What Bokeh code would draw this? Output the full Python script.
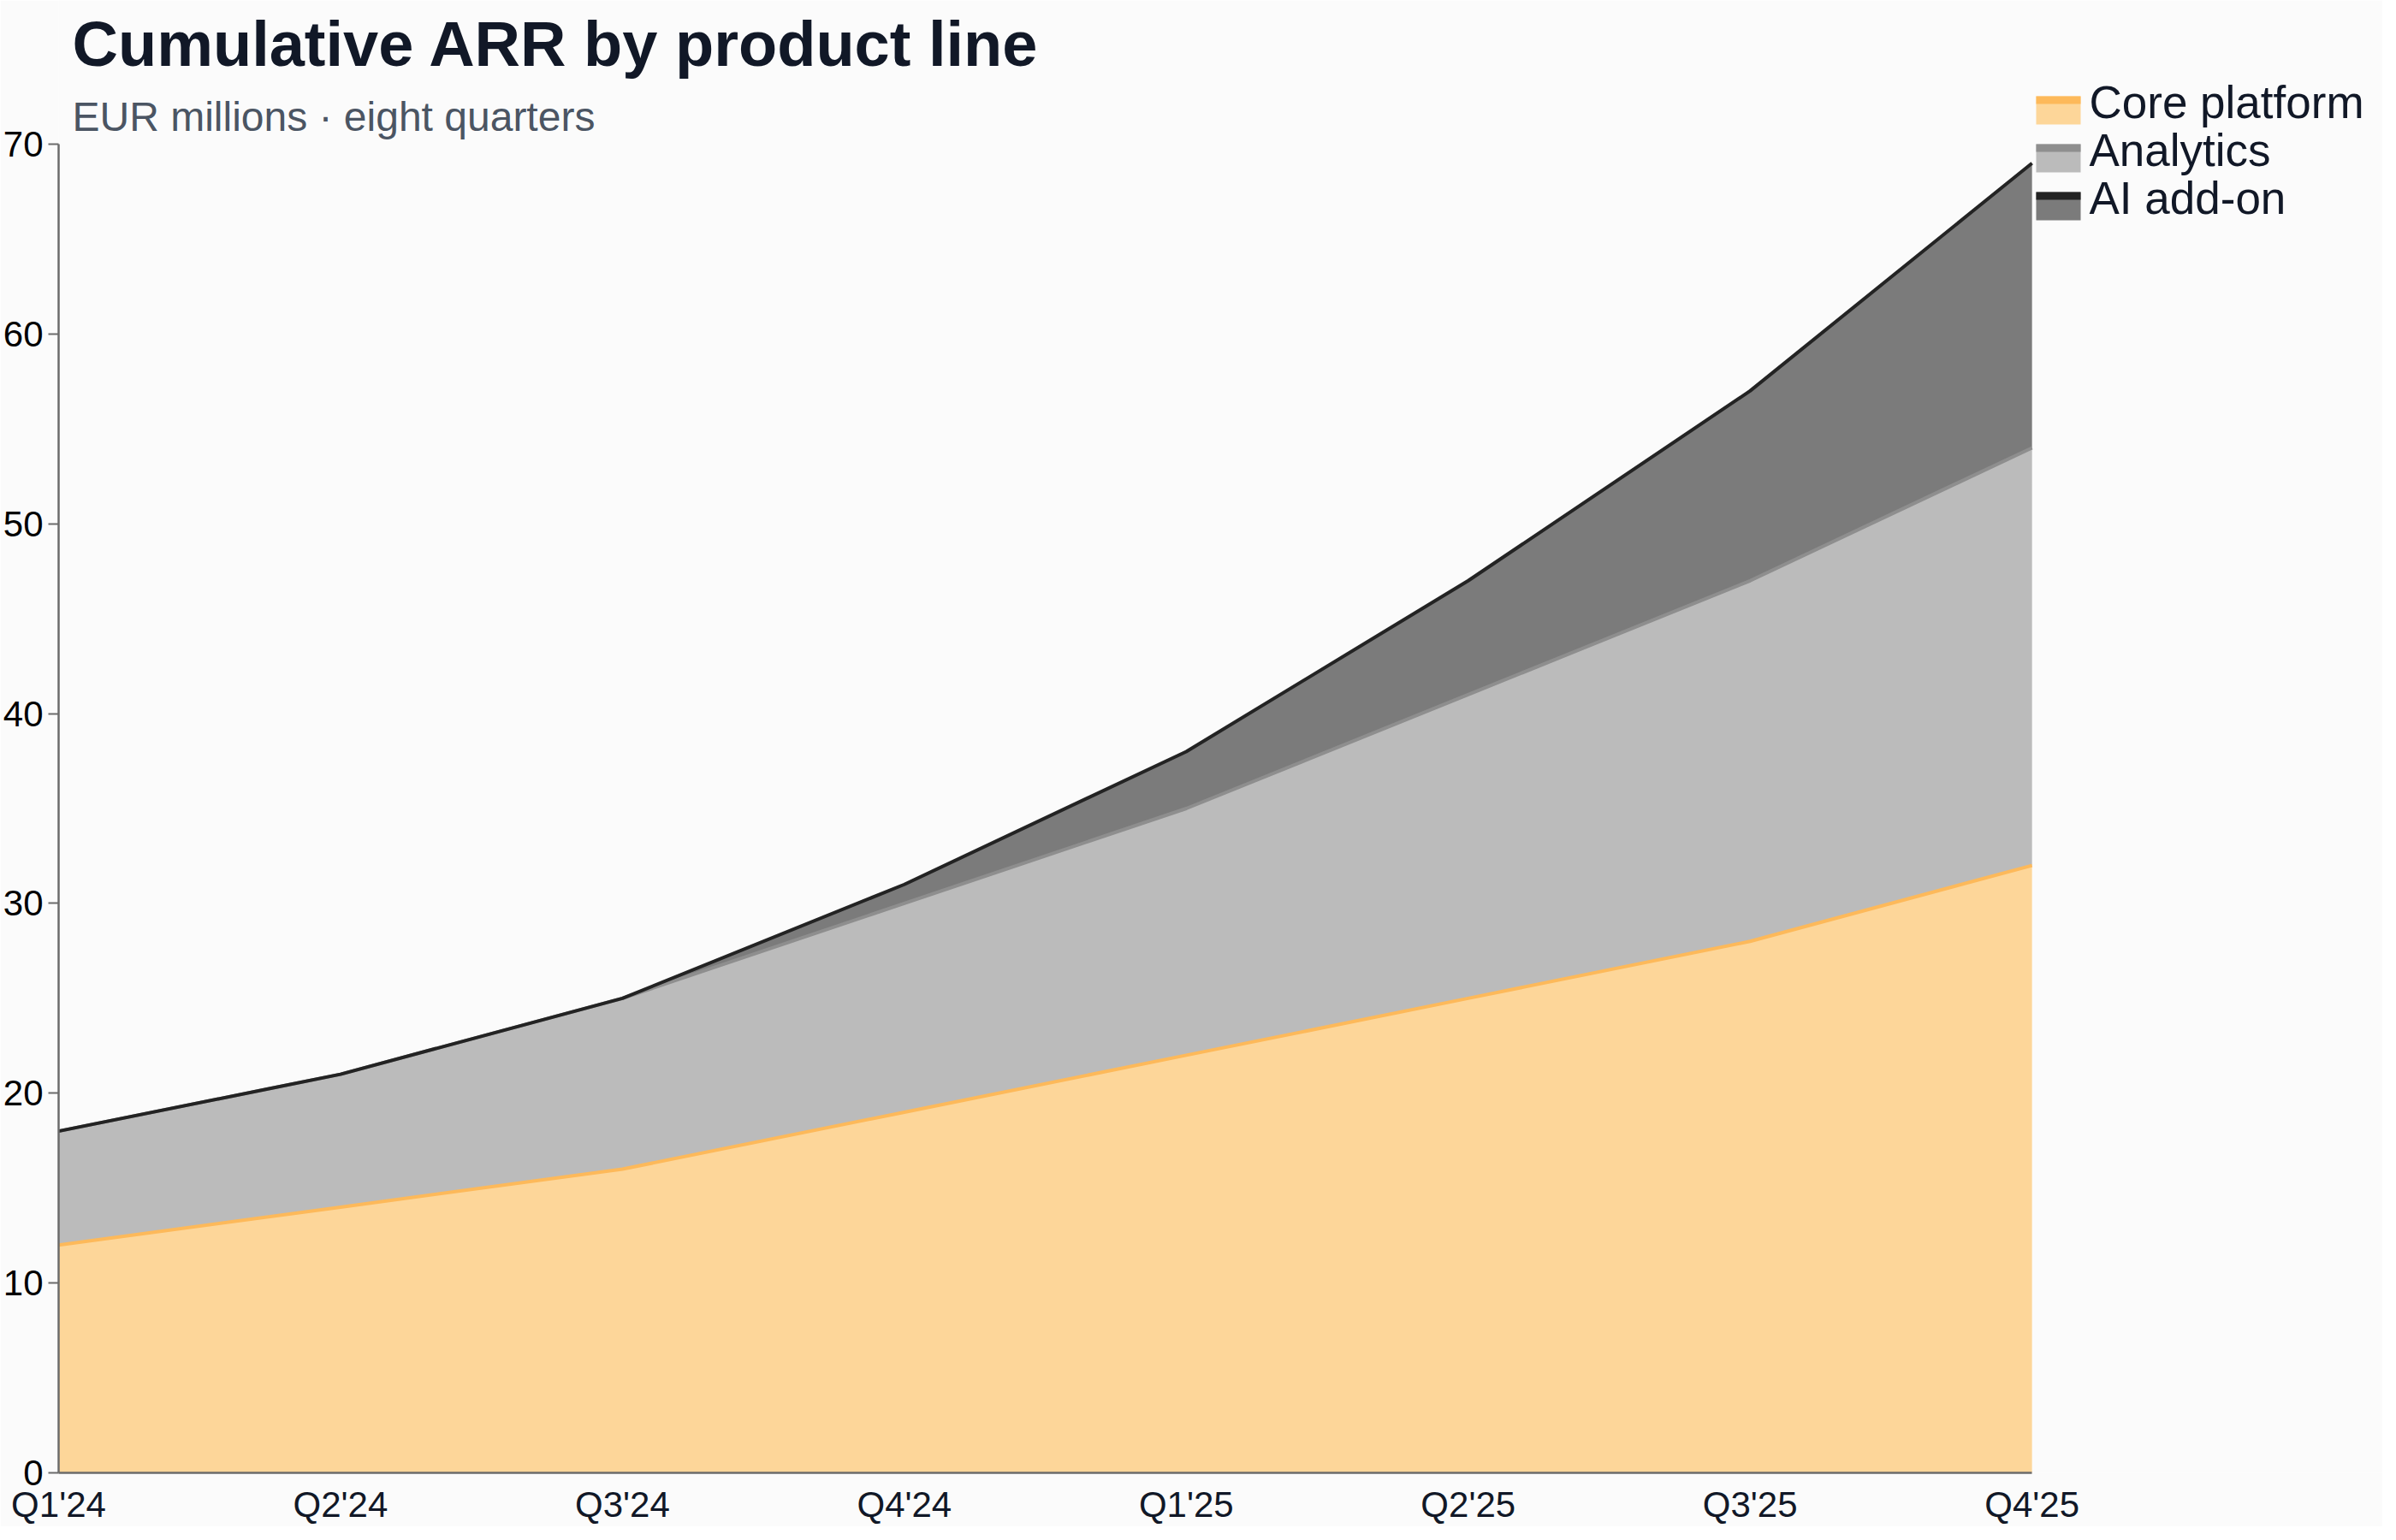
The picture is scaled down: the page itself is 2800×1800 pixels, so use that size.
from bokeh.plotting import figure
from bokeh.models import Range1d, FixedTicker, Label, BoxAnnotation
from bokeh.embed import file_html
from bokeh.resources import INLINE

quarters = ["Q1'24", "Q2'24", "Q3'24", "Q4'24", "Q1'25", "Q2'25", "Q3'25", "Q4'25"]
core = [12, 14, 16, 19, 22, 25, 28, 32]
analytics = [6, 7, 9, 11, 13, 16, 19, 22]
ai_addon = [0, 0, 0, 1, 3, 6, 10, 15]

names = ["Core platform", "Analytics", "AI add-on"]
fills = ["#FDD699", "#BBBBBB", "#7B7B7B"]
lines = ["#FDB95A", "#8E8E8E", "#232323"]

FONT = "Liberation Sans"
W, H = 2784, 1784
LEFT, BOTTOM = 67, 63          # axis panels
DATA_TOP, DATA_RIGHT = 168, 2374  # where y=70 and the last quarter sit (canvas px)
Y_MAX = 70

x = list(range(len(quarters)))
core_top = list(core)
ana_top = [c + a for c, a in zip(core_top, analytics)]
ai_top = [t + a for t, a in zip(ana_top, ai_addon)]

# the frame fills the whole canvas so that the header and legend can live inside it
frame_h = H - BOTTOM
frame_w = W - LEFT
y_end = Y_MAX * frame_h / (frame_h - DATA_TOP)
x_end = (len(x) - 1) * frame_w / (DATA_RIGHT - LEFT)

p = figure(width=W, height=H, title=None,
           x_range=Range1d(0, x_end), y_range=Range1d(0, y_end),
           output_backend="svg", toolbar_location=None,
           min_border_left=LEFT, min_border_right=0,
           min_border_top=0, min_border_bottom=BOTTOM)
p.background_fill_color = "#FBFBFB"
p.border_fill_color = "#FBFBFB"
p.outline_line_color = None
p.grid.visible = False

bottoms = [[0] * len(x), core_top, ana_top]
tops = [core_top, ana_top, ai_top]
for b, t, fc in zip(bottoms, tops, fills):
    p.varea(x=x, y1=b, y2=t, fill_color=fc, fill_alpha=1)
for t, lc in zip(tops, lines):
    p.line(x, t, line_color=lc, line_width=4, line_join="round")

# axes
p.xaxis.ticker = FixedTicker(ticks=x)
p.xaxis.major_label_overrides = {i: q for i, q in zip(x, quarters)}
p.xaxis.bounds = (0, len(x) - 1)
p.yaxis.ticker = FixedTicker(ticks=list(range(0, Y_MAX + 1, 10)))
p.yaxis.bounds = (0, Y_MAX)
for ax in (p.xaxis[0], p.yaxis[0]):
    ax.axis_line_color = "#6B6B6B"
    ax.axis_line_width = 2.5
    ax.major_tick_line_color = "#6B6B6B"
    ax.major_tick_line_width = 2
    ax.minor_tick_line_color = None
    ax.major_tick_in = 0
    ax.major_label_text_font = FONT
    ax.major_label_text_font_size = "42px"
p.xaxis.major_tick_out = 0
p.xaxis.major_label_standoff = 13
p.xaxis.major_label_text_color = "#111827"
p.yaxis.major_tick_out = 12
p.yaxis.major_label_standoff = 6
p.yaxis.major_label_text_color = "#000000"

# header (screen units: from frame bottom-left, y up)
p.add_layout(Label(x=16, y=frame_h - 51, x_units="screen", y_units="screen",
                   text="Cumulative ARR by product line", text_font=FONT,
                   text_font_size="74px", text_font_style="bold",
                   text_color="#111827", text_baseline="alphabetic"))
p.add_layout(Label(x=16, y=frame_h - 136, x_units="screen", y_units="screen",
                   text="EUR millions \u00b7 eight quarters", text_font=FONT,
                   text_font_size="48px", text_color="#4B5563",
                   text_baseline="alphabetic"))

# legend: fill swatch with a strip of the line colour on top
sw_left, sw_w, sw_h, strip_h = DATA_RIGHT + 4 - LEFT, 52, 33, 9
for i, (n, fc, lc) in enumerate(zip(names, fills, lines)):
    sw_top = frame_h - (112 + 56 * i)
    p.add_layout(BoxAnnotation(left=sw_left, right=sw_left + sw_w, top=sw_top, bottom=sw_top - sw_h,
                               left_units="screen", right_units="screen",
                               top_units="screen", bottom_units="screen",
                               fill_color=fc, fill_alpha=1, line_color=None))
    p.add_layout(BoxAnnotation(left=sw_left, right=sw_left + sw_w, top=sw_top, bottom=sw_top - strip_h,
                               left_units="screen", right_units="screen",
                               top_units="screen", bottom_units="screen",
                               fill_color=lc, fill_alpha=1, line_color=None))
    p.add_layout(Label(x=sw_left + sw_w + 10, y=sw_top - 7, x_units="screen", y_units="screen",
                       text=n, text_font=FONT, text_font_size="53px",
                       text_color="#111827", text_baseline="alphabetic"))

open("out.html", "w").write(file_html(p, INLINE))
